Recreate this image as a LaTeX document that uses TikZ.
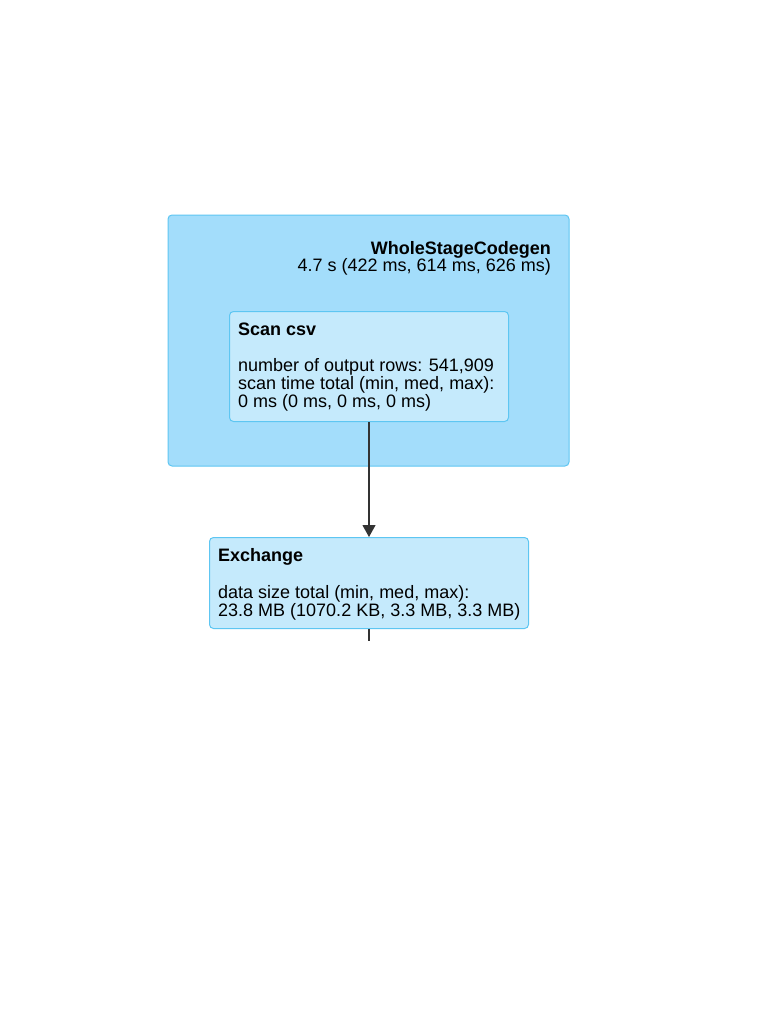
\documentclass[tikz,border=0pt]{standalone}
\usepackage{fontspec}
\setmainfont{Liberation Sans}
\usetikzlibrary{arrows.meta}
\definecolor{outerfill}{HTML}{A3DDFB}
\definecolor{innerfill}{HTML}{C5EAFC}
\definecolor{boxline}{HTML}{5EC6F2}
\tikzset{
  cluster/.style={draw=boxline, fill=outerfill, rounded corners=4pt, line width=1pt},
  opbox/.style={draw=boxline, fill=innerfill, rounded corners=4pt, line width=1pt},
  lbl/.style={inner sep=0pt, font=\fontsize{18}{17.8}\selectfont, align=left},
  lblb/.style={inner sep=0pt, font=\bfseries\fontsize{18}{17.8}\selectfont},
  conn/.style={draw=black!80, line width=1.1pt},
}
\begin{document}
\begin{tikzpicture}[x=1pt,y=-1pt]
\useasboundingbox (0,0) rectangle (781,1011);
\fill[white] (0,0) rectangle (781,1011);
\draw[cluster] (168,215) rectangle (569,466);
\node[lblb, anchor=base east] (wsc) at (551,254) {WholeStageCodegen};
\node[lbl, anchor=base east] (wsct) at (551,271.5) {4.7 s (422 ms, 614 ms, 626 ms)};
\node[opbox, minimum width=279, minimum height=110, anchor=north west] (scan) at (229,311) {};
\node[lblb, anchor=base west] (scant) at (238,335.5) {Scan csv};
\node[lbl, anchor=base west] (scanb) at (238,407.5) {number of output rows: 541,909\\scan time total (min, med, max):\\0 ms (0 ms, 0 ms, 0 ms)};
\node[opbox, minimum width=319, minimum height=91, anchor=north west] (exch) at (209,537) {};
\node[lblb, anchor=base west] (excht) at (218,561.5) {Exchange};
\node[lbl, anchor=base west] (exchb) at (218,616) {data size total (min, med, max):\\23.8 MB (1070.2 KB, 3.3 MB, 3.3 MB)};
\coordinate (tail) at (369,641);
\draw[conn, -{Triangle[length=12pt,width=13pt]}] (scan.south -| 369,0) -- (exch.north -| 369,0);
\draw[conn] (exch.south -| 369,0) -- (tail);
\end{tikzpicture}
\end{document}
